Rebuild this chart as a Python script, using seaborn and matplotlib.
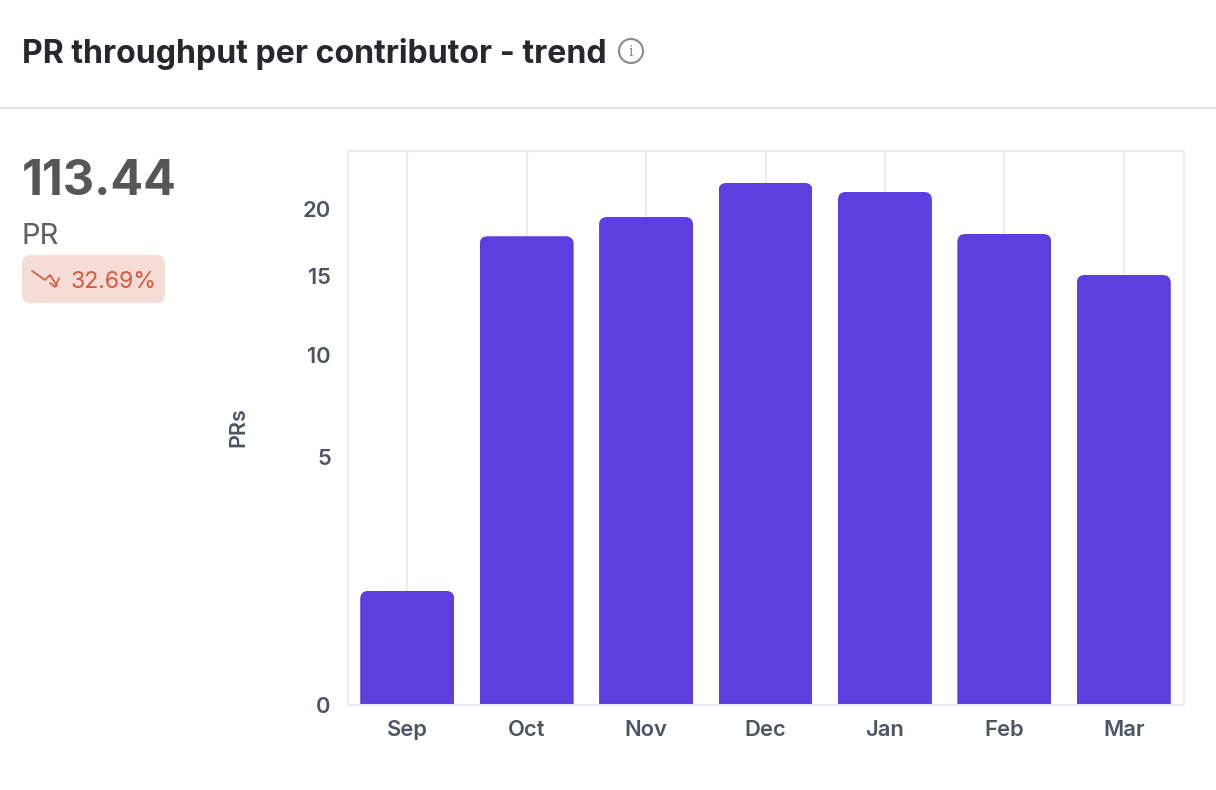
import numpy as np
import pandas as pd
import matplotlib
matplotlib.use('Agg')
import matplotlib.pyplot as plt
import seaborn as sns
from matplotlib.patches import FancyBboxPatch, Circle
from matplotlib.transforms import IdentityTransform

MONTHS = ['Sep', 'Oct', 'Nov', 'Dec', 'Jan', 'Feb', 'Mar']
PRS = [1.06, 17.9, 19.4, 22.2, 21.44, 18.07, 15.06]
Y_TICKS = [0, 5, 10, 15, 20]

TITLE = 'PR throughput per contributor - trend'
TOTAL = '113.44'
UNIT = 'PR'
CHANGE = '32.69%'

W, H = 1216, 790
BAR_COLOR = '#5d3fe0'
GRID_COLOR = '#ebebf1'
LABEL_COLOR = '#4b5563'

sns.set_theme(style='white')
plt.rcParams['font.family'] = ['Inter', 'DejaVu Sans']

fig = plt.figure(figsize=(W / 100, H / 100), dpi=100, facecolor='white')

# overlay in pixel coords for the header and the summary block
bg = fig.add_axes([0, 0, 1, 1], zorder=0)
bg.set_xlim(0, W)
bg.set_ylim(H, 0)
bg.axis('off')

bg.text(22, 50, TITLE, fontsize=23.1, fontweight='bold', color='#26282c', va='center_baseline', ha='left')
bg.add_patch(Circle((631, 51), 12, fc='white', ec='#8a8a8a', lw=1.5))
bg.text(631, 51.5, 'i', fontsize=10, color='#8a8a8a', ha='center', va='center', family='DejaVu Serif')
bg.plot([0, W], [107.5, 107.5], color='#e4e4e4', lw=1.5)

bg.text(22, 177, TOTAL, fontsize=35, fontweight='bold', color='#565656', ha='left', va='center_baseline')
bg.text(22, 233, UNIT, fontsize=21, color='#5f5f5f', ha='left', va='center_baseline')
bg.add_patch(FancyBboxPatch((22, 255), 143, 48, boxstyle='round,pad=0,rounding_size=9', fc='#f5dcd6', ec='none'))
# little down-trend arrow
bg.plot([32, 45, 50, 57], [271, 280, 275, 286], color='#d9573c', lw=1.2)
bg.plot([50, 55, 59], [283, 287, 278], color='#d9573c', lw=1.2)
bg.text(71, 279, CHANGE, fontsize=16.6, color='#d9573c', ha='left', va='center_baseline')

# chart
ax = fig.add_axes([347.5 / W, (H - 705) / H, 836 / W, 554 / H], zorder=1)
ax.patch.set_alpha(0)
ax.set_yscale('function', functions=(np.sqrt, lambda v: np.square(v)))

df = pd.DataFrame({'month': MONTHS, 'prs': PRS})
sns.barplot(data=df, x='month', y='prs', color=BAR_COLOR, saturation=1, width=0.787, ax=ax)

ax.set_xlim(-0.5, len(MONTHS) - 0.5)
ax.set_ylim(0, 25)
ax.set_yticks(Y_TICKS)
ax.set_yticks([], minor=True)
ax.set_xlabel('')
ax.set_ylabel('')
ax.set_axisbelow(True)
ax.grid(axis='x', color=GRID_COLOR, lw=1.5)
ax.grid(axis='y', visible=False)
ax.tick_params(axis='both', length=0, labelsize=15.8, labelcolor=LABEL_COLOR)
ax.tick_params(axis='x', pad=11)
ax.tick_params(axis='y', pad=12)
for lab in ax.get_xticklabels() + ax.get_yticklabels():
    lab.set_fontweight('semibold')
for sp in ax.spines.values():
    sp.set_visible(True)
    sp.set_color(GRID_COLOR)
    sp.set_linewidth(1.5)

# round the top corners of each bar
fig.canvas.draw()
for bar in ax.patches:
    bar.set_linewidth(0)
    box = bar.get_window_extent()
    clip = FancyBboxPatch((box.x0, box.y0 - 20), box.width, box.height + 20,
                          boxstyle='round,pad=0,rounding_size=8', transform=IdentityTransform())
    bar.set_clip_path(clip)

bg.text(238, 427, 'PRs', fontsize=15.5, fontweight='semibold', color=LABEL_COLOR, rotation=90, ha='center', va='center')

fig.savefig('out.png', dpi=100)
plt.close(fig)
